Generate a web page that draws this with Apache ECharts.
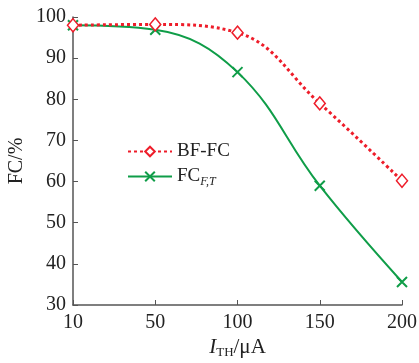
<!DOCTYPE html>
<html><head><meta charset="utf-8">
<script src="https://cdn.jsdelivr.net/npm/echarts@6/dist/echarts.min.js"></script>
<style>html,body{margin:0;padding:0;background:#fff}#c{width:419px;height:363px}</style>
</head><body><div id="c"></div>
<script>
const categories = ['10', '50', '100', '150', '200'];
const bfFC = [98.0, 98.2, 96.2, 79.0, 60.2];
const fcFT = [98.0, 96.9, 86.6, 59.0, 35.6];
const yTicks = [30, 40, 50, 60, 70, 80, 90, 100];

const chart = echarts.init(document.getElementById('c'));
const serif = 'Liberation Serif';
const axisColor = '#555';
const red = '#ee1d2a';
const green = '#0f9d48';
const crossPath = 'path://M0,0L10,10M10,0L0,10';
chart.setOption({
  animation: false,
  grid: {left: 73, right: 17, top: 17, bottom: 58, containLabel: false, outerBoundsMode: 'none'},
  legend: {
    left: 122, top: 137, orient: 'vertical', itemGap: 6, itemWidth: 44, itemHeight: 12,
    textStyle: {fontFamily: serif, fontSize: 19, color: '#222',
      rich: {n: {fontFamily: serif, fontSize: 19, color: '#222'},
             s: {fontFamily: serif, fontSize: 12, fontStyle: 'italic', color: '#222', padding: [10, 0, 0, 0]}}},
    formatter: function (name) { return name === 'BF-FC' ? '{n|BF-FC}' : '{n|FC}{s|F,T}'; },
    data: ['BF-FC', 'FCFT']
  },
  xAxis: {
    type: 'category', data: categories, boundaryGap: false,
    name: '{i|I}{s|TH}{n|/μA}', nameLocation: 'middle', nameGap: 31, nameMoveOverlap: false,
    nameTextStyle: {rich: {
      i: {fontFamily: serif, fontSize: 21, fontStyle: 'italic', color: '#222'},
      s: {fontFamily: serif, fontSize: 13, color: '#222', padding: [10, 0, 0, 0]},
      n: {fontFamily: serif, fontSize: 21, color: '#222'}}},
    axisLine: {lineStyle: {color: axisColor, width: 1.5}},
    axisTick: {inside: true, length: 5, alignWithLabel: true, lineStyle: {color: axisColor}},
    axisLabel: {fontFamily: serif, fontSize: 20, color: '#222', margin: 8},
    splitLine: {show: false}
  },
  yAxis: {
    type: 'value', min: 30, max: 100, interval: 10,
    name: 'FC/%', nameLocation: 'middle', nameGap: 46, nameMoveOverlap: false,
    nameTextStyle: {fontFamily: serif, fontSize: 20, color: '#222'},
    axisLine: {show: true, lineStyle: {color: axisColor, width: 1.5}},
    axisTick: {show: true, inside: true, length: 5, lineStyle: {color: axisColor}},
    axisLabel: {fontFamily: serif, fontSize: 20, color: '#222', margin: 7,
      formatter: function (v) { return yTicks.indexOf(v) >= 0 ? String(v) : ''; }},
    splitLine: {show: false}
  },
  series: [
    {name: 'BF-FC', type: 'line', data: bfFC, smooth: 0.4,
     symbol: 'diamond', symbolSize: [11, 13],
     lineStyle: {color: red, width: 3, type: [3, 3]},
     itemStyle: {color: '#fff', borderColor: red, borderWidth: 1.5}, z: 3},
    {name: 'FCFT', type: 'line', data: fcFT, smooth: 0.4,
     symbol: crossPath, symbolSize: 10,
     lineStyle: {color: green, width: 2},
     itemStyle: {color: green, borderColor: green, borderWidth: 2}, z: 2}
  ]
});
</script></body></html>
